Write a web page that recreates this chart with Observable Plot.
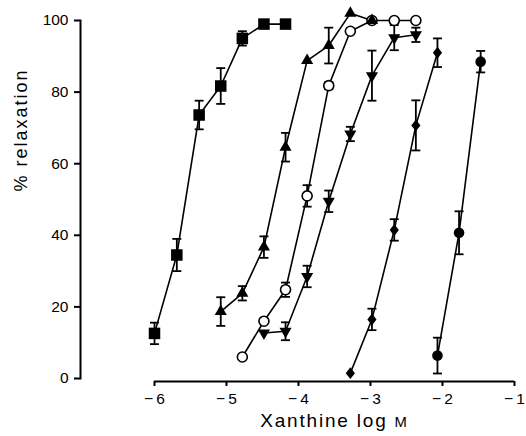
<!DOCTYPE html>
<html><head><meta charset="utf-8">
<script src="https://cdn.jsdelivr.net/npm/d3@7"></script>
<script src="https://cdn.jsdelivr.net/npm/@observablehq/plot@0.6"></script>
<style>body{margin:0;background:#fff;}</style>
</head><body><div id="chart"></div>
<script>
const xTicks = [-6, -5, -4, -3, -2, -1];
const yTicks = [0, 20, 40, 60, 80, 100];
const xLabel = "Xanthine log M";
const yLabel = "% relaxation";

// filled squares
const sqX = [-6.0, -5.69, -5.38, -5.08, -4.78, -4.48, -4.18];
const sqY = [12.6, 34.5, 73.6, 81.7, 95, 99, 99];
const sqE = [3, 4.5, 4, 5, 2, 0, 0];
// filled triangles (up)
const triX = [-5.08, -4.78, -4.48, -4.18, -3.88, -3.58, -3.28, -2.98];
const triY = [18.7, 23.8, 36.7, 64.6, 88.8, 93, 102, 100];
const triE = [4, 2, 3, 4, 0, 5, 0, 0];
// open circles
const ocX = [-4.78, -4.48, -4.18, -3.88, -3.58, -3.28, -2.98, -2.67, -2.37];
const ocY = [6, 16, 24.8, 51, 81.8, 97, 100, 100, 100];
const ocE = [0, 0, 2, 3, 1, 0, 0, 0, 0];
// filled triangles (down)
const dtX = [-4.48, -4.18, -3.88, -3.58, -3.28, -2.98, -2.67, -2.37];
const dtY = [12.7, 13.2, 28.5, 49.5, 68.3, 84.6, 95.2, 96];
const dtE = [0, 2.5, 3, 3, 2, 7, 3.5, 2];
// filled diamonds
const dmX = [-3.28, -2.98, -2.67, -2.37, -2.07];
const dmY = [1.5, 16.5, 41.5, 70.7, 91];
const dmE = [0, 3, 3, 7, 4];
// filled circles
const fcX = [-2.07, -1.77, -1.47];
const fcY = [6.4, 40.7, 88.5];
const fcE = [5, 6, 3];

const series = [
  {key: "sq", x: sqX, y: sqY, e: sqE},
  {key: "oc", x: ocX, y: ocY, e: ocE},
  {key: "tri", x: triX, y: triY, e: triE},
  {key: "dt", x: dtX, y: dtY, e: dtE},
  {key: "dm", x: dmX, y: dmY, e: dmE},
  {key: "fc", x: fcX, y: fcY, e: fcE}
];
const rows = series.flatMap(s => s.x.map((x, i) => ({series: s.key, x, y: s.y[i], e: s.e[i]})));
const errRows = rows.filter(d => d.e > 0);
const of = k => rows.filter(d => d.series === k);

const cap = {draw(ctx, size) { const h = Math.sqrt(size / Math.PI); ctx.moveTo(-h, 0); ctx.lineTo(h, 0); }};
const diamond = {draw(ctx, size) { const r = Math.sqrt(size / Math.PI); ctx.moveTo(0, -1.3 * r); ctx.lineTo(r, 0); ctx.lineTo(0, 1.3 * r); ctx.lineTo(-r, 0); ctx.closePath(); }};

const mL = 80, mR = 12, W = 526;
const unit = (W - mR - 154) / (xTicks.at(-1) - xTicks[0]);
const x0 = xTicks[0] - (154 - mL) / unit;

const chart = Plot.plot({
  width: W, height: 436,
  marginLeft: mL, marginRight: mR, marginTop: 20, marginBottom: 58,
  x: {domain: [x0, xTicks.at(-1)]},
  y: {domain: [0, 100]},
  style: {fontFamily: "'Liberation Sans', Arial, sans-serif", fontSize: "15.5px", color: "black", background: "white"},
  marks: [
    Plot.frame({anchor: "left", strokeWidth: 2}),
    Plot.axisY({ticks: yTicks, tickSize: 6, tickPadding: 6, label: null, strokeWidth: 2}),
    Plot.ruleY([0], {x1: xTicks[0], x2: xTicks.at(-1), dy: 3, strokeWidth: 2}),
    Plot.axisX({ticks: xTicks, tickSize: 5, tickPadding: 6, dy: 3, label: null, strokeWidth: 2,
      tickFormat: d => d < 0 ? "\u2212\u2009" + Math.abs(d) : String(d)}),
    Plot.line(rows, {x: "x", y: "y", z: "series", stroke: "black", strokeWidth: 1.6}),
    Plot.ruleX(errRows, {x: "x", y1: d => d.y - d.e, y2: d => d.y + d.e, stroke: "black", strokeWidth: 1.8}),
    Plot.dot(errRows, {x: "x", y: d => d.y + d.e, symbol: cap, r: 4.5, stroke: "black", strokeWidth: 1.8}),
    Plot.dot(errRows, {x: "x", y: d => d.y - d.e, symbol: cap, r: 4.5, stroke: "black", strokeWidth: 1.8}),
    Plot.dot(of("sq"), {x: "x", y: "y", symbol: "square", r: 6.5, fill: "black"}),
    Plot.dot(of("oc"), {x: "x", y: "y", symbol: "circle", r: 5, fill: "white", stroke: "black", strokeWidth: 1.6}),
    Plot.dot(of("tri"), {x: "x", y: "y", symbol: "triangle", r: 4.5, fill: "black"}),
    Plot.dot(of("dt"), {x: "x", y: "y", symbol: "triangle", rotate: 180, r: 4.5, fill: "black"}),
    Plot.dot(of("dm"), {x: "x", y: "y", symbol: diamond, r: 4.6, fill: "black"}),
    Plot.dot(of("fc"), {x: "x", y: "y", symbol: "circle", r: 5.3, fill: "black"}),
    Plot.text([yLabel], {text: d => d, frameAnchor: "left", rotate: -90, dx: -59, dy: -8, fontSize: 18, letterSpacing: 2}),
    Plot.text([xLabel], {text: d => d, x: () => (xTicks[0] + xTicks.at(-1)) / 2, frameAnchor: "bottom", dy: 48, fontSize: 19})
  ]
});
document.getElementById("chart").appendChild(chart);
d3.select(chart).selectAll("text").filter(function() { return this.textContent === xLabel; }).each(function() {
  const t = d3.select(this);
  t.attr("letter-spacing", 1.8);
  t.text(xLabel.slice(0, -1));
  t.append("tspan").attr("font-size", "0.78em").text(xLabel.slice(-1));
});
d3.select(chart).selectAll("text").filter(function() { return this.textContent === yLabel; }).attr("letter-spacing", 2);
</script>
</body></html>
